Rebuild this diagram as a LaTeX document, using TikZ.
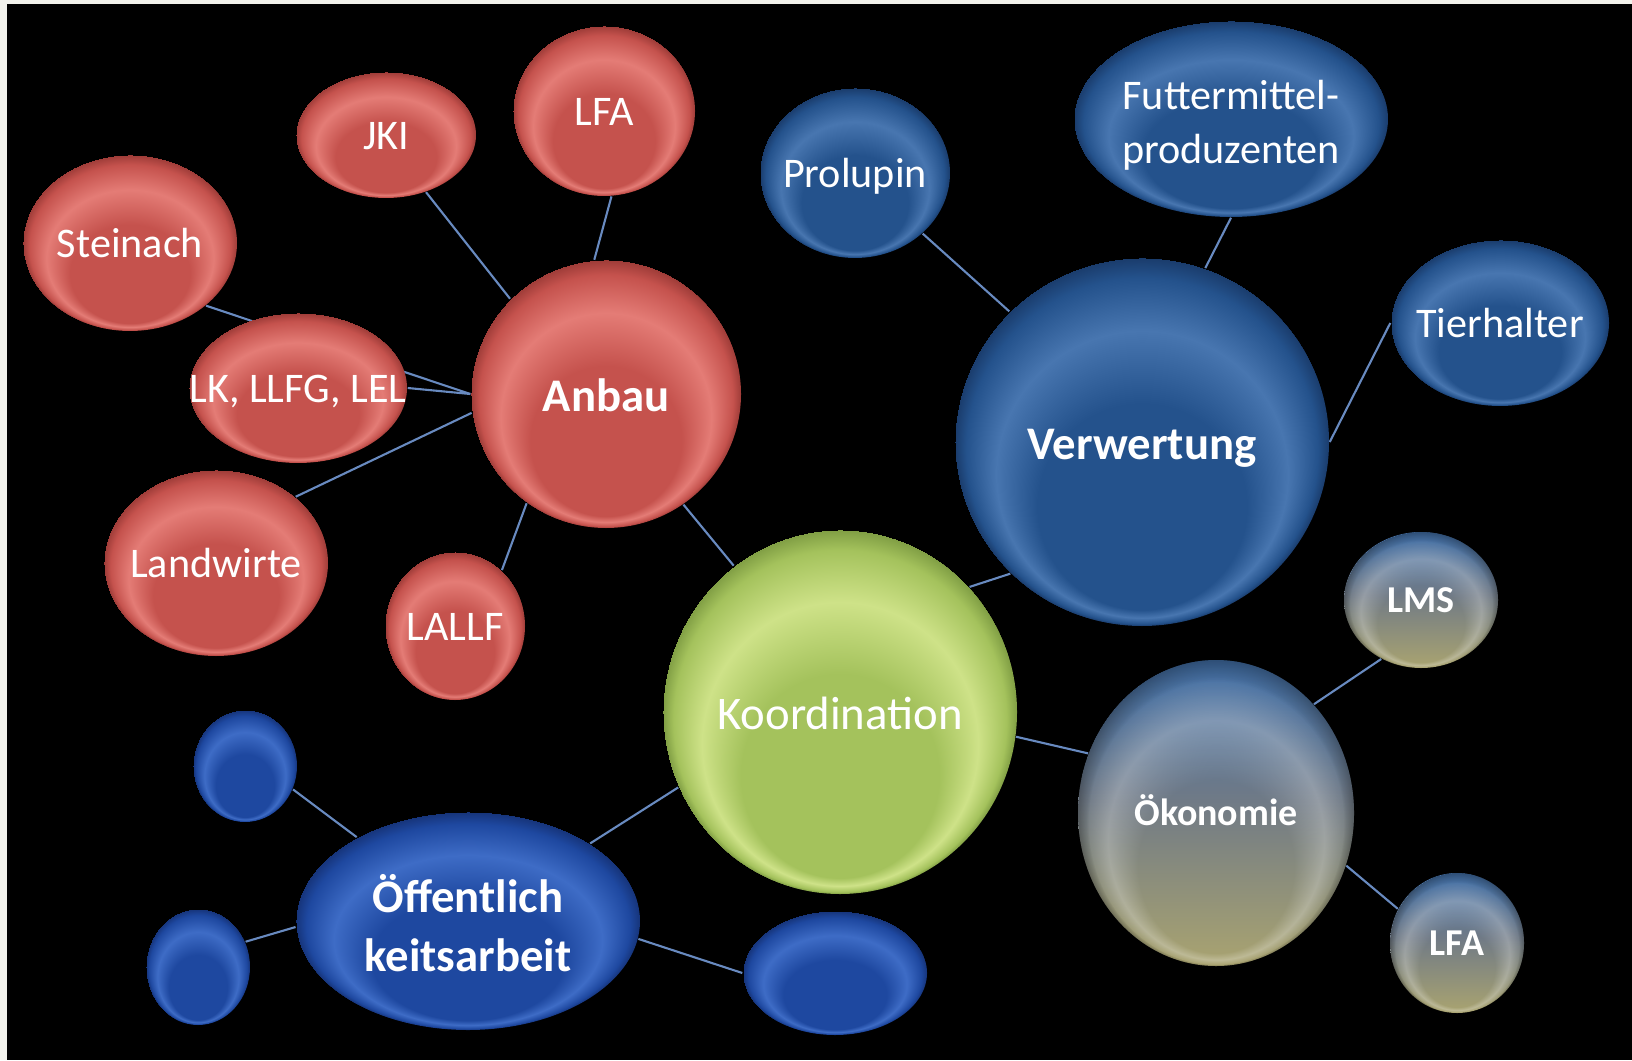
\documentclass[tikz,border=0pt]{standalone}
\usepackage{fontspec}
\setmainfont{Carlito}
\usetikzlibrary{shapes.geometric,fadings}

\definecolor{redbase}{RGB}{197,82,77}
\definecolor{redhi}{RGB}{228,124,118}
\definecolor{reddk}{RGB}{158,60,56}
\definecolor{bluebase}{RGB}{36,82,140}
\definecolor{bluehi}{RGB}{72,118,176}
\definecolor{bluedk}{RGB}{26,60,108}
\definecolor{deepbase}{RGB}{30,72,160}
\definecolor{deephi}{RGB}{62,108,198}
\definecolor{deepdk}{RGB}{22,52,122}
\definecolor{greenbase}{RGB}{164,194,92}
\definecolor{greenhi}{RGB}{206,226,136}
\definecolor{greendk}{RGB}{128,158,68}
\definecolor{okotop}{RGB}{66,112,168}
\definecolor{okomid}{RGB}{112,122,134}
\definecolor{okobot}{RGB}{170,164,112}
\definecolor{linkblue}{RGB}{104,138,192}
\definecolor{paper}{RGB}{242,242,236}

\pgfdeclarelayer{bg}
\pgfdeclarelayer{links}
\pgfsetlayers{bg,links,main}

% name, highlight, base, dark
\newcommand{\bubbleshading}[4]{%
  \pgfdeclareradialshading{#1}{\pgfpoint{0bp}{-20bp}}{color(0bp)=(#3); color(14bp)=(#3); color(19.5bp)=(#2); color(23.5bp)=(#3); color(25bp)=(#4)}}
\bubbleshading{redball}{redhi}{redbase}{reddk}
\bubbleshading{blueball}{bluehi}{bluebase}{bluedk}
\bubbleshading{deepball}{deephi}{deepbase}{deepdk}
\bubbleshading{greenball}{greenhi}{greenbase}{greendk}
\pgfdeclareverticalshading{okoball}{100bp}{color(0bp)=(okobot); color(25bp)=(okobot); color(52bp)=(okomid); color(75bp)=(okotop); color(100bp)=(okotop)}
\pgfdeclareradialshading{crescentshade}{\pgfpoint{0bp}{-20bp}}{color(0bp)=(black); color(14bp)=(black); color(19.5bp)=(white!26!black); color(23.5bp)=(black); color(25bp)=(black)}
\pgfdeclareradialshading{rimshade}{\pgfpoint{0bp}{-20bp}}{color(0bp)=(black); color(23bp)=(black); color(25bp)=(white!30!black)}
\pgfdeclarefading{crescentfade}{\pgfuseshading{crescentshade}}
\pgfdeclarefading{rimfade}{\pgfuseshading{rimshade}}

\newcommand{\nowidth}[1]{\makebox[0pt]{#1}}

\begin{document}
\begin{tikzpicture}
  \tikzstyle{bubble}=[ellipse,inner sep=0pt,text=white,shading angle=0,text depth=2pt]
  \tikzstyle{txt}=[font=\fontsize{12}{15.4}\selectfont,text height=10pt]
  \tikzstyle{txtbig}=[font=\bfseries\fontsize{13.3}{16.8}\selectfont,text height=12pt]
  \tikzstyle{txtsmall}=[font=\bfseries\fontsize{10.8}{13}\selectfont,text height=9pt]
  \tikzstyle{twolines}=[text height=0pt,text depth=0pt]
  \tikzstyle{redbub}=[bubble,shading=redball]
  \tikzstyle{bluebub}=[bubble,shading=blueball]
  \tikzstyle{deepbub}=[bubble,shading=deepball]
  \tikzstyle{greenbub}=[bubble,shading=greenball]
  \tikzstyle{okobub}=[bubble,shading=okoball,path picture={
      \fill[white,path fading=crescentfade] (path picture bounding box.south west) rectangle (path picture bounding box.north east);
      \fill[black,path fading=rimfade] (path picture bounding box.south west) rectangle (path picture bounding box.north east);
    }]
  \tikzstyle{conn}=[draw=linkblue,line width=0.6pt]

  \useasboundingbox (0,0) rectangle (16.32,-10.60);
  \begin{pgfonlayer}{bg}
    \fill[paper] (0,0) rectangle (16.32,-10.60);
    \fill[black] (0.07,-0.04) rectangle (16.32,-10.60);
  \end{pgfonlayer}

  \node[redbub,txt,minimum width=2.14cm,minimum height=1.76cm] (steinach) at (1.30,-2.43) {\nowidth{Steinach}};
  \node[redbub,txt,minimum width=1.80cm,minimum height=1.26cm] (jki) at (3.86,-1.35) {\nowidth{JKI}};
  \node[redbub,txt,minimum width=1.82cm,minimum height=1.70cm] (lfaA) at (6.04,-1.11) {\nowidth{LFA}};
  \node[redbub,txt,minimum width=2.18cm,minimum height=1.50cm] (lk) at (2.98,-3.88) {\nowidth{LK, LLFG, LEL}};
  \node[redbub,txtbig,minimum width=2.70cm,minimum height=2.68cm] (anbau) at (6.06,-3.94) {\nowidth{Anbau}};
  \node[redbub,txt,minimum width=2.24cm,minimum height=1.86cm] (landwirte) at (2.16,-5.63) {\nowidth{Landwirte}};
  \node[redbub,txt,minimum width=1.40cm,minimum height=1.48cm] (lallf) at (4.55,-6.26) {\nowidth{LALLF}};

  \node[greenbub,font=\fontsize{13.3}{16}\selectfont,text height=12pt,minimum width=3.54cm,minimum height=3.64cm] (koord) at (8.40,-7.12) {\nowidth{Koordination}};

  \node[bluebub,txt,minimum width=1.90cm,minimum height=1.70cm] (prolupin) at (8.55,-1.73) {\nowidth{Prolupin}};
  \node[bluebub,txt,twolines,minimum width=3.14cm,minimum height=1.96cm] (futter) at (12.31,-1.19)
    {\nowidth{\raisebox{-4.8pt}[0pt][0pt]{\begin{tabular}{@{}c@{}}Futtermittel-\\produzenten\end{tabular}}}};
  \node[bluebub,txtbig,minimum width=3.74cm,minimum height=3.68cm] (verw) at (11.42,-4.42) {\nowidth{Verwertung}};
  \node[bluebub,txt,minimum width=2.18cm,minimum height=1.66cm] (tierhalter) at (15.00,-3.23) {\nowidth{Tierhalter}};

  \node[okobub,txtsmall,minimum width=1.54cm,minimum height=1.36cm] (lms) at (14.21,-6.00) {\nowidth{LMS}};
  \node[okobub,txtsmall,minimum width=2.76cm,minimum height=3.06cm] (oek) at (12.16,-8.13) {\nowidth{Ökonomie}};
  \node[okobub,txtsmall,minimum width=1.34cm,minimum height=1.40cm] (lfaB) at (14.57,-9.43) {\nowidth{LFA}};

  \node[deepbub,txtbig,twolines,minimum width=3.44cm,minimum height=2.18cm] (oeff) at (4.68,-9.21)
    {\nowidth{\raisebox{-6.3pt}[0pt][0pt]{\begin{tabular}{@{}c@{}}Öffentlich\\keitsarbeit\end{tabular}}}};
  \node[deepbub,minimum width=1.04cm,minimum height=1.12cm] (pubA) at (2.45,-7.66) {};
  \node[deepbub,minimum width=1.04cm,minimum height=1.16cm] (pubB) at (1.98,-9.67) {};
  \node[deepbub,minimum width=1.84cm,minimum height=1.24cm] (pubC) at (8.35,-9.73) {};

  \begin{pgfonlayer}{links}
    \draw[conn] (steinach.south east) -- (anbau.west);
    \draw[conn] (lk.east) -- (anbau.west);
    \draw[conn] (landwirte.north east) -- (anbau.188);
    \draw[conn] (jki.-55) -- (anbau.north west);
    \draw[conn] (lfaA.-85) -- (anbau.95);
    \draw[conn] (lallf.50) -- (anbau.234);
    \draw[conn] (anbau.-55) -- (koord.126);
    \draw[conn] (koord.44) -- (verw.225);
    \draw[conn] (prolupin.south east) -- (verw.north west);
    \draw[conn] (futter.south) -- (verw.70);
    \draw[conn] (tierhalter.west) -- (verw.east);
    \draw[conn] (koord.-8) -- (oek.155);
    \draw[conn] (oek.48) -- (lms.236);
    \draw[conn] (oek.-22) -- (lfaB.150);
    \draw[conn] (koord.205) -- (oeff.north east);
    \draw[conn] (oeff.143) -- (pubA.-26);
    \draw[conn] (oeff.182) -- (pubB.28);
    \draw[conn] (oeff.-6) -- (pubC.west);
  \end{pgfonlayer}
\end{tikzpicture}
\end{document}
